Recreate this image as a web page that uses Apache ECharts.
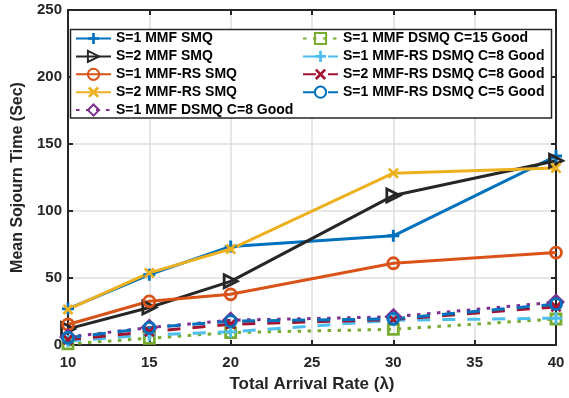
<!DOCTYPE html>
<html>
<head>
<meta charset="utf-8">
<script src="https://cdn.jsdelivr.net/npm/echarts@6/dist/echarts.min.js"></script>
<style>html,body{margin:0;padding:0;background:#fff;}#c{width:569px;height:398px;}</style>
</head>
<body>
<div id="c"></div>
<script>
const xValues = [10, 15, 20, 30, 40];
const names = [
  'S=1 MMF SMQ', 'S=2 MMF SMQ', 'S=1 MMF-RS SMQ', 'S=2 MMF-RS SMQ',
  'S=1 MMF DSMQ C=8 Good', 'S=1 MMF DSMQ C=15 Good', 'S=1 MMF-RS DSMQ C=8 Good',
  'S=2 MMF-RS DSMQ C=8 Good', 'S=1 MMF-RS DSMQ C=5 Good'
];
const s1MmfSmq      = [27, 52.5, 73.5, 81.5, 141];
const s2MmfSmq      = [12, 28, 47.5, 111.5, 137.5];
const s1MmfRsSmq    = [15.3, 32.6, 37.8, 61, 69];
const s2MmfRsSmq    = [26.5, 53.8, 71.6, 128.2, 132];
const s1DsmqC8      = [6, 13, 18.5, 21, 32];
const s1DsmqC15     = [0.8, 5, 9.3, 11.7, 19.4];
const s1RsDsmqC8    = [3, 7.5, 9.8, 18.5, 20];
const s2RsDsmqC8    = [4, 10, 15.5, 19, 28.5];
const s1RsDsmqC5    = [5.4, 12.8, 17.8, 19.5, 30.5];
const yTicks = [0, 50, 100, 150, 200, 250];
const xTicks = [10, 15, 20, 25, 30, 35, 40];

const FONT = '"Liberation Sans", Arial, sans-serif';
const AX = '#262626';
const PLUS = 'path://M3.8,0H6.2V3.8H10V6.2H6.2V10H3.8V6.2H0V3.8H3.8Z';
const CROSS = 'path://M1.7,0L5,3.3L8.3,0L10,1.7L6.7,5L10,8.3L8.3,10L5,6.7L1.7,10L0,8.3L3.3,5L0,1.7Z';
const TRI = 'path://M0,0L10,5L0,10Z';
const DOT = [3.5, 6.5];
const DASH = [13, 12];

function pairs(v) { return xValues.map((x, i) => [x, v[i]]); }

function mk(name, vals, color, symbol, size, hollow, ltype) {
  return {
    name, type: 'line', data: pairs(vals),
    symbol, symbolSize: size, symbolKeepAspect: true,
    lineStyle: { color, width: 3, type: ltype || 'solid', cap: 'butt' },
    itemStyle: hollow ? { color: 'rgba(0,0,0,0)', borderColor: color, borderWidth: 2.8 }
                      : { color, borderWidth: 0 },
    color,
    emphasis: { disabled: true }
  };
}

const series = [
  mk(names[0], s1MmfSmq, '#0072BD', PLUS, 12, false),
  mk(names[1], s2MmfSmq, '#262626', TRI, 13, true),
  mk(names[2], s1MmfRsSmq, '#D95319', 'circle', 11, true),
  mk(names[3], s2MmfRsSmq, '#EDB120', CROSS, 11, false),
  mk(names[4], s1DsmqC8, '#7E2F8E', 'diamond', 14, true, DOT),
  mk(names[5], s1DsmqC15, '#77AC30', 'rect', 10, true, DOT),
  mk(names[6], s1RsDsmqC8, '#4DBEEE', PLUS, 12, false, DASH),
  mk(names[7], s2RsDsmqC8, '#A2142F', CROSS, 11, false, DASH),
  mk(names[8], s1RsDsmqC5, '#0072BD', 'circle', 11, true, DASH)
];

const legendBase = {
  orient: 'vertical', itemWidth: 35, itemHeight: 14, itemGap: 3.9, padding: 0,
  top: 31.5, z: 10, selectedMode: false,
  textStyle: { fontSize: 14, fontWeight: 'bold', fontFamily: FONT, color: '#000', lineHeight: 14 }
};

const chart = echarts.init(document.getElementById('c'), null, { renderer: 'canvas' });
chart.setOption({
  animation: false,
  backgroundColor: '#fff',
  grid: { left: 68, right: 13, top: 10, bottom: 51, containLabel: false },
  legend: [
    Object.assign({}, legendBase, { left: 75, data: names.slice(0, 5) }),
    Object.assign({}, legendBase, { left: 302, data: names.slice(5) })
  ],
  graphic: [{
    type: 'rect', z: 5, shape: { x: 70.5, y: 29.5, width: 481, height: 88.5 },
    style: { fill: '#fff', stroke: '#262626', lineWidth: 1.5 }
  }],
  xAxis: [{
    type: 'value', min: xTicks[0], max: xTicks[xTicks.length - 1], interval: 5,
    name: 'Total Arrival Rate (λ)', nameLocation: 'middle', nameGap: 31,
    nameTextStyle: { fontSize: 17, fontWeight: 'bold', fontFamily: FONT, color: AX },
    axisLine: { show: true, onZero: false, lineStyle: { color: AX, width: 2 } },
    axisTick: { show: true, inside: true, length: 5, lineStyle: { color: AX, width: 2 } },
    axisLabel: { fontSize: 15, fontWeight: 'bold', fontFamily: FONT, color: AX, margin: 10 },
    splitLine: { show: true, lineStyle: { color: '#dedede', width: 1.5 } }
  }, {
    type: 'value', position: 'top', min: xTicks[0], max: xTicks[xTicks.length - 1], interval: 5,
    axisLine: { show: true, onZero: false, lineStyle: { color: AX, width: 2 } },
    axisTick: { show: true, inside: true, length: 5, lineStyle: { color: AX, width: 2 } },
    axisLabel: { show: false }, splitLine: { show: false }
  }],
  yAxis: [{
    type: 'value', min: yTicks[0], max: yTicks[yTicks.length - 1], interval: 50,
    name: 'Mean Sojourn Time (Sec)', nameLocation: 'middle', nameGap: 37,
    nameTextStyle: { fontSize: 16, fontWeight: 'bold', fontFamily: FONT, color: AX },
    axisLine: { show: true, onZero: false, lineStyle: { color: AX, width: 2 } },
    axisTick: { show: true, inside: true, length: 5, lineStyle: { color: AX, width: 2 } },
    axisLabel: { fontSize: 15, fontWeight: 'bold', fontFamily: FONT, color: AX, margin: 6 },
    splitLine: { show: true, lineStyle: { color: '#dedede', width: 1.5 } }
  }, {
    type: 'value', position: 'right', min: yTicks[0], max: yTicks[yTicks.length - 1], interval: 50,
    axisLine: { show: true, onZero: false, lineStyle: { color: AX, width: 2 } },
    axisTick: { show: true, inside: true, length: 5, lineStyle: { color: AX, width: 2 } },
    axisLabel: { show: false }, splitLine: { show: false }
  }],
  series
});
</script>
</body>
</html>
